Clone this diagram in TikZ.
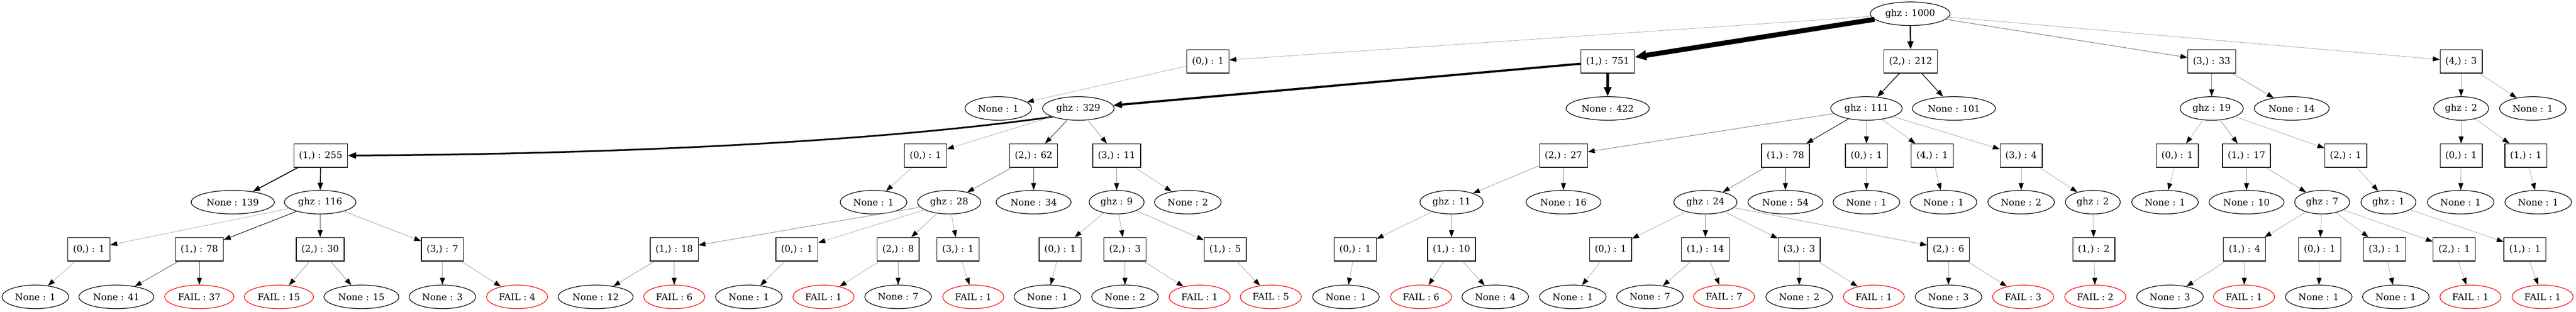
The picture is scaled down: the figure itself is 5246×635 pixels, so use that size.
\documentclass[tikz,border=0pt]{standalone}
\usepackage{fontspec}
\setmainfont{DejaVu Serif}
\usetikzlibrary{arrows.meta, shapes.geometric}
\tikzset{
    >={Triangle[length=10pt 1, width=7pt 1, color=black]}, % filled heads, always black
    box/.style={draw, rectangle, line width=1pt, minimum height=36pt, minimum width=54pt, inner xsep=8pt}, % outcome nodes
    oval/.style={draw, ellipse, line width=1pt, minimum height=36pt, minimum width=54pt, inner xsep=5pt, inner ysep=0pt}, % state nodes
    fail/.style={oval, draw=red}, % failed runs
    cnt/.style={line width={max(0.6,#1/100)*1pt}, draw=black!\the\numexpr\ifnum#1>65 100\else35+#1\fi\relax}, % edge weight from count
}

\begin{document}
\begin{tikzpicture}[x=0.75pt, y=0.75pt, font=\fontsize{14pt}{17pt}\selectfont]
        \useasboundingbox (0,0) rectangle (5246,-635);

        % root
        \node[oval] (r) at (3890,-28) {ghz : 1000};

        % level 1
        \node[box] (a1) at (2460,-125) {(0,) : 1};
        \node[box] (a2) at (3274,-125) {(1,) : 751};
        \node[box] (a3) at (3891,-125) {(2,) : 212};
        \node[box] (a4) at (4504,-125) {(3,) : 33};
        \node[box] (a5) at (5012,-125) {(4,) : 3};

        % level 2
        \node[oval] (b1) at (2033,-221) {None : 1};
        \node[oval] (b2) at (2196,-221) {ghz : 329};
        \node[oval] (b3) at (3274,-221) {None : 422};
        \node[oval] (b4) at (3801,-221) {ghz : 111};
        \node[oval] (b5) at (3979,-221) {None : 101};
        \node[oval] (b6) at (4504,-221) {ghz : 19};
        \node[oval] (b7) at (4667,-221) {None : 14};
        \node[oval] (b8) at (5012,-221) {ghz : 2};
        \node[oval] (b9) at (5158,-221) {None : 1};

        % level 3
        \node[box] (c1) at (653,-317) {(1,) : 255};
        \node[box] (c2) at (1885,-317) {(0,) : 1};
        \node[box] (c3) at (2105,-317) {(2,) : 62};
        \node[box] (c4) at (2274,-317) {(3,) : 11};
        \node[box] (c5) at (3184,-317) {(2,) : 27};
        \node[box] (c6) at (3636,-317) {(1,) : 78};
        \node[box] (c7) at (3801,-317) {(0,) : 1};
        \node[box] (c8) at (3935,-317) {(4,) : 1};
        \node[box] (c9) at (4116,-317) {(3,) : 4};
        \node[box] (c10) at (4434,-317) {(0,) : 1};
        \node[box] (c11) at (4575,-317) {(1,) : 17};
        \node[box] (c12) at (4777,-317) {(2,) : 1};
        \node[box] (c13) at (5012,-317) {(0,) : 1};
        \node[box] (c14) at (5144,-317) {(1,) : 1};

        % level 4
        \node[oval] (d1) at (474,-412) {None : 139};
        \node[oval] (d2) at (652,-412) {ghz : 116};
        \node[oval] (d3) at (1779,-412) {None : 1};
        \node[oval] (d4) at (1933,-412) {ghz : 28};
        \node[oval] (d5) at (2105,-412) {None : 34};
        \node[oval] (d6) at (2274,-412) {ghz : 9};
        \node[oval] (d7) at (2419,-412) {None : 2};
        \node[oval] (d8) at (2956,-412) {ghz : 11};
        \node[oval] (d9) at (3184,-412) {None : 16};
        \node[oval] (d10) at (3473,-412) {ghz : 24};
        \node[oval] (d11) at (3636,-412) {None : 54};
        \node[oval] (d12) at (3801,-412) {None : 1};
        \node[oval] (d13) at (3958,-412) {None : 1};
        \node[oval] (d14) at (4116,-412) {None : 2};
        \node[oval] (d15) at (4262,-412) {ghz : 2};
        \node[oval] (d16) at (4409,-412) {None : 1};
        \node[oval] (d17) at (4575,-412) {None : 10};
        \node[oval] (d18) at (4729,-412) {ghz : 7};
        \node[oval] (d19) at (4864,-412) {ghz : 1};
        \node[oval] (d20) at (5011,-412) {None : 1};
        \node[oval] (d21) at (5169,-412) {None : 1};

        % level 5
        \node[box] (e1) at (181,-508) {(0,) : 1};
        \node[box] (e2) at (406,-508) {(1,) : 78};
        \node[box] (e3) at (652,-508) {(2,) : 30};
        \node[box] (e4) at (901,-508) {(3,) : 7};
        \node[box] (e5) at (1373,-508) {(1,) : 18};
        \node[box] (e6) at (1623,-508) {(0,) : 1};
        \node[box] (e7) at (1829,-508) {(2,) : 8};
        \node[box] (e8) at (1951,-508) {(3,) : 1};
        \node[box] (e9) at (2159,-508) {(0,) : 1};
        \node[box] (e10) at (2291,-508) {(2,) : 3};
        \node[box] (e11) at (2495,-508) {(1,) : 5};
        \node[box] (e12) at (2760,-508) {(0,) : 1};
        \node[box] (e13) at (2956,-508) {(1,) : 10};
        \node[box] (e14) at (3280,-508) {(0,) : 1};
        \node[box] (e15) at (3473,-508) {(1,) : 14};
        \node[box] (e16) at (3664,-508) {(3,) : 3};
        \node[box] (e17) at (3968,-508) {(2,) : 6};
        \node[box] (e18) at (4264,-508) {(1,) : 2};
        \node[box] (e19) at (4571,-508) {(1,) : 4};
        \node[box] (e20) at (4724,-508) {(0,) : 1};
        \node[box] (e21) at (4856,-508) {(3,) : 1};
        \node[box] (e22) at (4998,-508) {(2,) : 1};
        \node[box] (e23) at (5142,-508) {(1,) : 1};

        % level 6
        \node[oval] (f1) at (72,-605) {None : 1};
        \node[oval] (f2) at (237,-605) {None : 41};
        \node[fail] (f3) at (406,-605) {FAIL : 37};
        \node[fail] (f4) at (568,-605) {FAIL : 15};
        \node[oval] (f5) at (736,-605) {None : 15};
        \node[oval] (f6) at (901,-605) {None : 3};
        \node[fail] (f7) at (1053,-605) {FAIL : 4};
        \node[oval] (f8) at (1213,-605) {None : 12};
        \node[fail] (f9) at (1373,-605) {FAIL : 6};
        \node[oval] (f10) at (1525,-605) {None : 1};
        \node[fail] (f11) at (1677,-605) {FAIL : 1};
        \node[oval] (f12) at (1829,-605) {None : 7};
        \node[fail] (f13) at (1982,-605) {FAIL : 1};
        \node[oval] (f14) at (2133,-605) {None : 1};
        \node[oval] (f15) at (2291,-605) {None : 2};
        \node[fail] (f16) at (2443,-605) {FAIL : 1};
        \node[fail] (f17) at (2588,-605) {FAIL : 5};
        \node[oval] (f18) at (2741,-605) {None : 1};
        \node[fail] (f19) at (2894,-605) {FAIL : 6};
        \node[oval] (f20) at (3045,-605) {None : 4};
        \node[oval] (f21) at (3203,-605) {None : 1};
        \node[oval] (f22) at (3360,-605) {None : 7};
        \node[fail] (f23) at (3511,-605) {FAIL : 7};
        \node[oval] (f24) at (3664,-605) {None : 2};
        \node[fail] (f25) at (3816,-605) {FAIL : 1};
        \node[oval] (f26) at (3968,-605) {None : 3};
        \node[fail] (f27) at (4120,-605) {FAIL : 3};
        \node[fail] (f28) at (4267,-605) {FAIL : 2};
        \node[oval] (f29) at (4419,-605) {None : 3};
        \node[fail] (f30) at (4570,-605) {FAIL : 1};
        \node[oval] (f31) at (4722,-605) {None : 1};
        \node[oval] (f32) at (4879,-605) {None : 1};
        \node[fail] (f33) at (5031,-605) {FAIL : 1};
        \node[fail] (f34) at (5178,-605) {FAIL : 1};

        % edges
        \draw[->, cnt=255] (b2.198) .. controls (1700,-300) and (1100,-315) .. (c1.east);
        \path[->]
        (r) edge[cnt=1] (a1)
            edge[cnt=751] (a2)
            edge[cnt=212] (a3)
            edge[cnt=33] (a4)
            edge[cnt=3] (a5)
        (a1) edge[cnt=1] (b1)
        (a2) edge[cnt=329] (b2)
             edge[cnt=422] (b3)
        (a3) edge[cnt=111] (b4)
             edge[cnt=101] (b5)
        (a4) edge[cnt=19] (b6)
             edge[cnt=14] (b7)
        (a5) edge[cnt=2] (b8)
             edge[cnt=1] (b9)
        (b2) edge[cnt=1] (c2)
             edge[cnt=62] (c3)
             edge[cnt=11] (c4)
        (b4) edge[cnt=27] (c5)
             edge[cnt=78] (c6)
             edge[cnt=1] (c7)
             edge[cnt=1] (c8)
             edge[cnt=4] (c9)
        (b6) edge[cnt=1] (c10)
             edge[cnt=17] (c11)
             edge[cnt=1] (c12)
        (b8) edge[cnt=1] (c13)
             edge[cnt=1] (c14)
        (c1) edge[cnt=139] (d1)
             edge[cnt=116] (d2)
        (c2) edge[cnt=1] (d3)
        (c3) edge[cnt=28] (d4)
             edge[cnt=34] (d5)
        (c4) edge[cnt=9] (d6)
             edge[cnt=2] (d7)
        (c5) edge[cnt=11] (d8)
             edge[cnt=16] (d9)
        (c6) edge[cnt=24] (d10)
             edge[cnt=54] (d11)
        (c7) edge[cnt=1] (d12)
        (c8) edge[cnt=1] (d13)
        (c9) edge[cnt=2] (d14)
             edge[cnt=2] (d15)
        (c10) edge[cnt=1] (d16)
        (c11) edge[cnt=10] (d17)
              edge[cnt=7] (d18)
        (c12) edge[cnt=1] (d19)
        (c13) edge[cnt=1] (d20)
        (c14) edge[cnt=1] (d21)
        (d2) edge[cnt=1] (e1)
             edge[cnt=78] (e2)
             edge[cnt=30] (e3)
             edge[cnt=7] (e4)
        (d4) edge[cnt=18] (e5)
             edge[cnt=1] (e6)
             edge[cnt=8] (e7)
             edge[cnt=1] (e8)
        (d6) edge[cnt=1] (e9)
             edge[cnt=3] (e10)
             edge[cnt=5] (e11)
        (d8) edge[cnt=1] (e12)
             edge[cnt=10] (e13)
        (d10) edge[cnt=1] (e14)
              edge[cnt=14] (e15)
              edge[cnt=3] (e16)
              edge[cnt=6] (e17)
        (d15) edge[cnt=2] (e18)
        (d18) edge[cnt=4] (e19)
              edge[cnt=1] (e20)
              edge[cnt=1] (e21)
              edge[cnt=1] (e22)
        (d19) edge[cnt=1] (e23)
        (e1) edge[cnt=1] (f1)
        (e2) edge[cnt=41] (f2)
             edge[cnt=37] (f3)
        (e3) edge[cnt=15] (f4)
             edge[cnt=15] (f5)
        (e4) edge[cnt=3] (f6)
             edge[cnt=4] (f7)
        (e5) edge[cnt=12] (f8)
             edge[cnt=6] (f9)
        (e6) edge[cnt=1] (f10)
        (e7) edge[cnt=1] (f11)
             edge[cnt=7] (f12)
        (e8) edge[cnt=1] (f13)
        (e9) edge[cnt=1] (f14)
        (e10) edge[cnt=2] (f15)
              edge[cnt=1] (f16)
        (e11) edge[cnt=5] (f17)
        (e12) edge[cnt=1] (f18)
        (e13) edge[cnt=6] (f19)
              edge[cnt=4] (f20)
        (e14) edge[cnt=1] (f21)
        (e15) edge[cnt=7] (f22)
              edge[cnt=7] (f23)
        (e16) edge[cnt=2] (f24)
              edge[cnt=1] (f25)
        (e17) edge[cnt=3] (f26)
              edge[cnt=3] (f27)
        (e18) edge[cnt=2] (f28)
        (e19) edge[cnt=3] (f29)
              edge[cnt=1] (f30)
        (e20) edge[cnt=1] (f31)
        (e21) edge[cnt=1] (f32)
        (e22) edge[cnt=1] (f33)
        (e23) edge[cnt=1] (f34);
\end{tikzpicture}
\end{document}
